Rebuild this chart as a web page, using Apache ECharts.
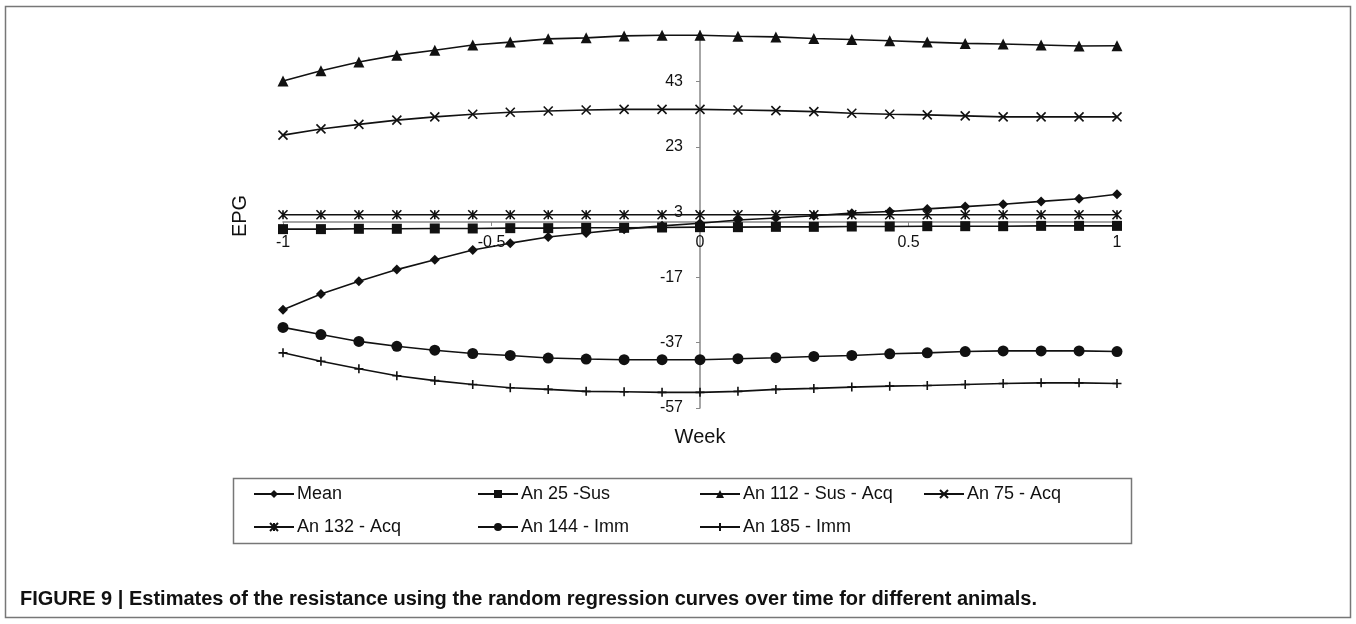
<!DOCTYPE html>
<html>
<head>
<meta charset="utf-8">
<script src="https://cdn.jsdelivr.net/npm/echarts@6/dist/echarts.min.js"></script>
<style>html,body{margin:0;padding:0;background:#fff}#c{width:1356px;height:624px}</style>
</head>
<body>
<div id="c"></div>
<script>
// Week values (x)
const weeks = [-1, -0.909, -0.818, -0.727, -0.636, -0.545, -0.455, -0.364, -0.273, -0.182, -0.091, 0,
               0.091, 0.182, 0.273, 0.364, 0.455, 0.545, 0.636, 0.727, 0.818, 0.909, 1];
// EPG estimates
const meanVals  = [-26.9, -22.1, -18.2, -14.6, -11.6, -8.6, -6.5, -4.6, -3.4, -2.2, -1.2, -0.4,
                   0.6, 1.2, 1.9, 2.7, 3.2, 4.0, 4.7, 5.4, 6.3, 7.1, 8.5];
const an25Vals  = [-2.2, -2.2, -2.1, -2.1, -2.0, -2.0, -1.9, -1.9, -1.8, -1.8, -1.7, -1.6,
                   -1.6, -1.5, -1.5, -1.4, -1.4, -1.3, -1.3, -1.3, -1.2, -1.2, -1.2];
const an112Vals = [43.2, 46.3, 49.0, 51.1, 52.6, 54.2, 55.1, 56.1, 56.4, 57.0, 57.2, 57.2,
                   56.9, 56.7, 56.2, 55.9, 55.5, 55.1, 54.7, 54.5, 54.2, 53.9, 54.0];
const an75Vals  = [26.6, 28.5, 29.9, 31.2, 32.2, 33.0, 33.6, 34.0, 34.3, 34.5, 34.5, 34.5,
                   34.3, 34.1, 33.8, 33.3, 33.0, 32.8, 32.5, 32.2, 32.2, 32.2, 32.2];
const an132Vals = [2.2, 2.2, 2.2, 2.2, 2.2, 2.2, 2.2, 2.2, 2.2, 2.2, 2.2, 2.2,
                   2.2, 2.2, 2.2, 2.2, 2.2, 2.2, 2.2, 2.2, 2.2, 2.2, 2.2];
const an144Vals = [-32.3, -34.5, -36.6, -38.1, -39.3, -40.3, -40.9, -41.7, -42.0, -42.2, -42.2, -42.2,
                   -41.9, -41.6, -41.2, -40.9, -40.4, -40.1, -39.7, -39.5, -39.5, -39.5, -39.7];
const an185Vals = [-40.1, -42.7, -45.0, -47.1, -48.6, -49.8, -50.8, -51.3, -51.9, -52.0, -52.2, -52.2,
                   -51.9, -51.3, -51.0, -50.6, -50.3, -50.1, -49.8, -49.5, -49.3, -49.3, -49.5];
// Axis tick labels
const yTicks = [-57, -37, -17, 3, 23, 43];
const xTicks = [-1, -0.5, 0, 0.5, 1];
const seriesNames = ['Mean', 'An 25 -Sus', 'An 112 - Sus - Acq', 'An 75 - Acq', 'An 132 - Acq', 'An 144 - Imm', 'An 185 - Imm'];
const caption = 'FIGURE 9 | Estimates of the resistance using the random regression curves over time for different animals.';

const FONT = '"Liberation Sans", Arial, sans-serif';
const INK = '#111';
const symX = 'path://M0,0L10,10M10,0L0,10';
const symStar = 'path://M0,0L10,10M10,0L0,10M5,0L5,10';
const symPlus = 'path://M5,0L5,10M0,5L10,5';

function mk(name, vals, symbol, size, strokeSym) {
  return {
    name: name,
    type: 'line',
    data: weeks.map((w, i) => [w, vals[i]]),
    symbol: symbol,
    symbolSize: size,
    showAllSymbol: true,
    lineStyle: { color: INK, width: 1.6 },
    itemStyle: strokeSym ? { color: INK, borderColor: INK, borderWidth: 1.6 } : { color: INK, borderWidth: 0 },
    emphasis: { disabled: true },
    animation: false,
    z: 3
  };
}

const series = [
  mk(seriesNames[0], meanVals, 'diamond', 10, false),
  mk(seriesNames[1], an25Vals, 'rect', 10, false),
  mk(seriesNames[2], an112Vals, 'triangle', 11, false),
  mk(seriesNames[3], an75Vals, symX, 9, true),
  mk(seriesNames[4], an132Vals, symStar, 9, true),
  mk(seriesNames[5], an144Vals, 'circle', 11, false),
  mk(seriesNames[6], an185Vals, symPlus, 9, true)
];

const legendPos = [[253, 485], [477, 485], [699, 485], [923, 485], [253, 518], [477, 518], [699, 518]];
const legends = seriesNames.map((n, i) => ({
  data: [n],
  left: legendPos[i][0],
  top: legendPos[i][1],
  padding: 0,
  itemWidth: 40,
  itemHeight: 10,
  itemGap: 0,
  selectedMode: false,
  textStyle: { fontFamily: FONT, fontSize: 18, color: INK, padding: [0, 0, 0, -2] }
}));

const chart = echarts.init(document.getElementById('c'), null, { renderer: 'canvas' });
chart.setOption({
  backgroundColor: '#fff',
  animation: false,
  grid: { left: 283, right: 239, top: 31, bottom: 216, containLabel: false, outerBoundsMode: 'none' },
  xAxis: {
    type: 'value', min: -1, max: 1, interval: 0.5,
    axisLine: { onZero: false, lineStyle: { color: '#888', width: 1.5 } },
    axisTick: { show: true, length: 4, lineStyle: { color: '#888' } },
    axisLabel: { fontFamily: FONT, fontSize: 16, color: INK, margin: 13,
                 formatter: v => String(v) },
    splitLine: { show: false }
  },
  yAxis: {
    type: 'value', min: -57, max: 58.5,
    axisLine: { show: true, onZero: false, lineStyle: { color: '#888', width: 1.5 } },
    axisTick: { show: true, length: 4, customValues: yTicks, lineStyle: { color: '#888' } },
    axisLabel: { fontFamily: FONT, fontSize: 16, color: INK, margin: 17, customValues: yTicks },
    splitLine: { show: false }
  },
  legend: legends,
  graphic: [
    { type: 'rect', shape: { x: 5.5, y: 6.5, width: 1345, height: 611 }, style: { fill: 'none', stroke: '#777', lineWidth: 1.5 }, silent: true },
    { type: 'rect', shape: { x: 233.5, y: 478.5, width: 898, height: 65 }, style: { fill: 'none', stroke: '#777', lineWidth: 1.5 }, silent: true },
    { type: 'text', x: 240, y: 216, rotation: Math.PI / 2,
      style: { text: 'EPG', fontFamily: FONT, fontSize: 20, fill: INK, align: 'center', verticalAlign: 'middle' }, silent: true },
    { type: 'text', x: 700, y: 437,
      style: { text: 'Week', fontFamily: FONT, fontSize: 20, fill: INK, align: 'center', verticalAlign: 'middle' }, silent: true },
    { type: 'text', x: 20, y: 599,
      style: { text: caption, fontFamily: FONT, fontWeight: 'bold', fontSize: 20, fill: INK, align: 'left', verticalAlign: 'middle' }, silent: true }
  ],
  series: series
});

// Place both axes (line, ticks, labels) at the other axis's zero, as in the original figure
const origin = chart.convertToPixel({ gridIndex: 0 }, [0, 0]);
const corner = chart.convertToPixel({ gridIndex: 0 }, [-1, -57]);
chart.setOption({
  xAxis: { offset: origin[1] - corner[1] },
  yAxis: { offset: corner[0] - origin[0] }
});
</script>
</body>
</html>
